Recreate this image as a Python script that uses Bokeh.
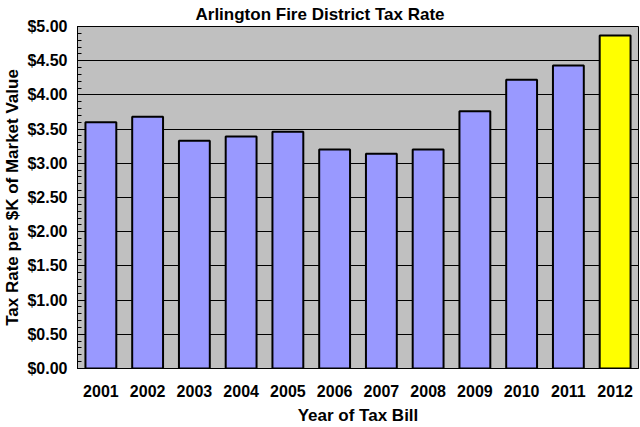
from bokeh.plotting import figure
from bokeh.models import ColumnDataSource, FactorRange, Range1d, FixedTicker, NumeralTickFormatter
from bokeh.embed import file_html
from bokeh.resources import INLINE

years = ["2001", "2002", "2003", "2004", "2005", "2006", "2007", "2008", "2009", "2010", "2011", "2012"]
rates = [3.60, 3.68, 3.33, 3.39, 3.46, 3.20, 3.14, 3.20, 3.76, 4.22, 4.43, 4.87]
y_ticks = [0.0, 0.5, 1.0, 1.5, 2.0, 2.5, 3.0, 3.5, 4.0, 4.5, 5.0]
highlight_year = "2012"

colors = ["#FFFF00" if y == highlight_year else "#9999FF" for y in years]
src = ColumnDataSource(dict(x=years, top=rates, color=colors))

FONT = "Liberation Sans"

p = figure(width=640, height=427, output_backend="svg", toolbar_location=None,
           x_range=FactorRange(*years), y_range=Range1d(0, 5),
           min_border_left=0, min_border_right=2, min_border_top=0, min_border_bottom=0)
p.border_fill_color = "white"

p.vbar(x="x", top="top", width=0.66, source=src, fill_color="color",
       line_color="black", line_width=2)

p.title.text = "Arlington Fire District Tax Rate"
p.title.text_font = FONT
p.title.text_font_size = "17px"
p.title.text_font_style = "bold"
p.title.text_color = "black"
p.title.align = "left"
p.title.offset = 118
p.title.standoff = 5

p.background_fill_color = "#C0C0C0"
p.outline_line_color = "black"
p.outline_line_width = 1

p.xgrid.grid_line_color = None
p.ygrid.grid_line_color = "black"
p.ygrid.grid_line_width = 1
p.ygrid.ticker = FixedTicker(ticks=y_ticks)

yax = p.yaxis[0]
yax.ticker = FixedTicker(ticks=y_ticks, minor_ticks=[i / 10 for i in range(51)])
yax.formatter = NumeralTickFormatter(format="$0.00")
yax.axis_label = "Tax Rate per $K of Market Value"
yax.axis_label_text_font = FONT
yax.axis_label_text_font_size = "17px"
yax.axis_label_text_font_style = "bold"
yax.axis_label_text_color = "black"
yax.axis_label_standoff = 2
yax.major_label_text_font = FONT
yax.major_label_text_font_size = "16px"
yax.major_label_text_font_style = "bold"
yax.major_label_text_color = "black"
yax.major_tick_in = 5
yax.major_tick_out = 0
yax.minor_tick_in = 4
yax.minor_tick_out = 0
yax.axis_line_color = "black"
yax.major_label_standoff = 10

xax = p.xaxis[0]
xax.axis_label = "Year of Tax Bill"
xax.axis_label_text_font = FONT
xax.axis_label_text_font_size = "17px"
xax.axis_label_text_font_style = "bold"
xax.axis_label_text_color = "black"
xax.axis_label_standoff = 6
xax.major_label_text_font = FONT
xax.major_label_text_font_size = "16px"
xax.major_label_text_font_style = "bold"
xax.major_label_text_color = "black"
xax.major_tick_line_color = None
xax.minor_tick_line_color = None
xax.major_label_standoff = 10
xax.axis_line_color = "black"

open("out.html", "w").write(file_html(p, INLINE))
